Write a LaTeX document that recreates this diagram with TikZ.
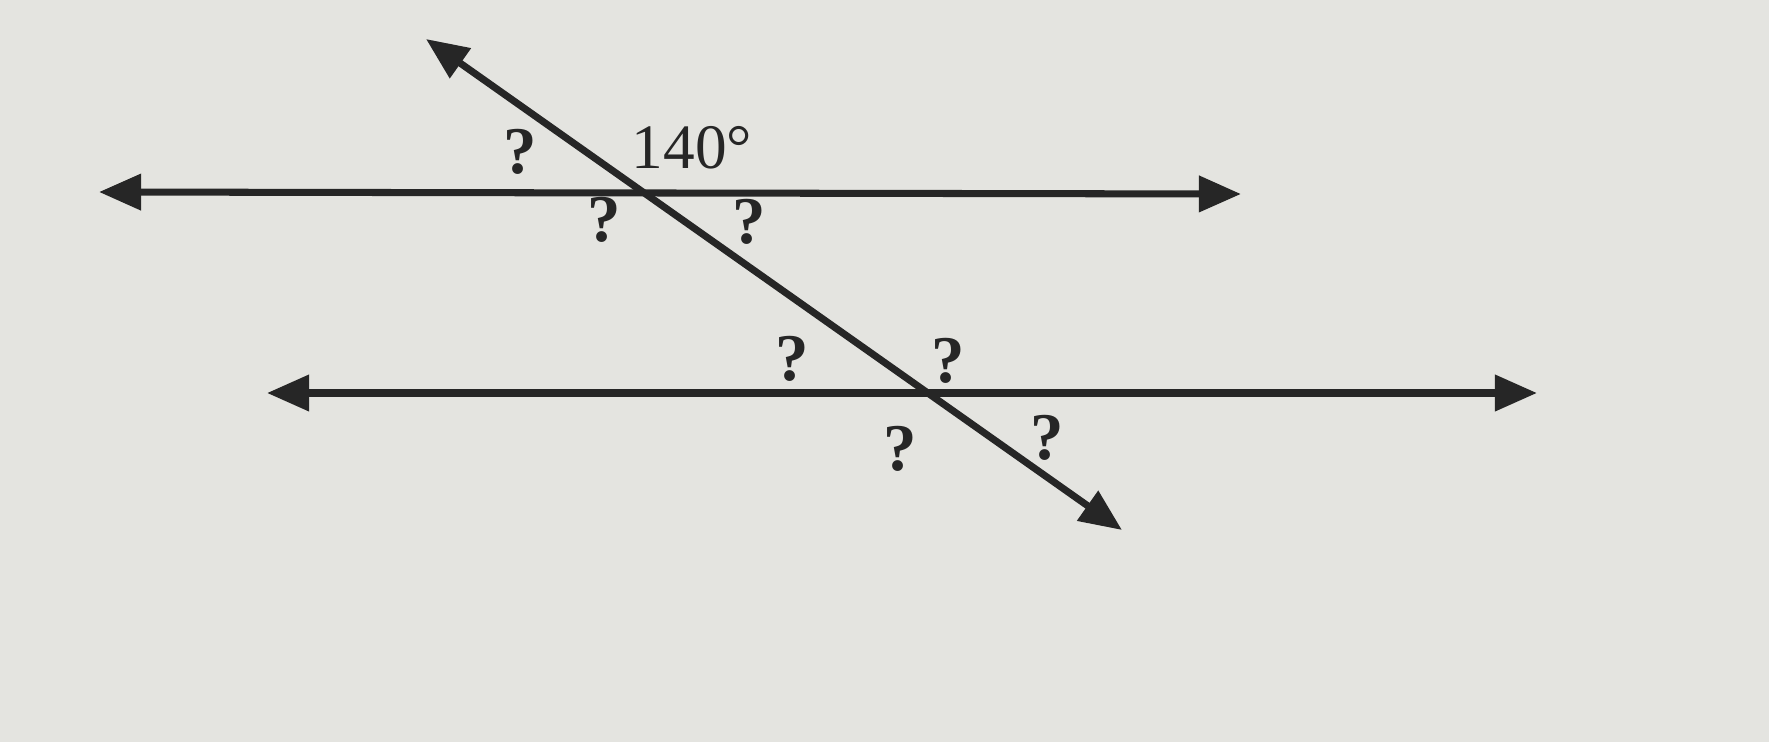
\documentclass[tikz,border=0pt]{standalone}
\usepackage{fontspec}
\setmainfont{Liberation Serif}
\usetikzlibrary{arrows.meta}
\definecolor{paper}{HTML}{E4E4E0}
\definecolor{ink}{HTML}{262626}

\begin{document}
\begin{tikzpicture}[
	%	style def
    x=0.01cm, y=-0.01cm,
    important line/.style={line width=2pt, color=ink, {Triangle[length=12pt,width=10pt]}-{Triangle[length=12pt,width=10pt]}},
    ask/.style={font=\bfseries\fontsize{19}{19}\selectfont, text=ink},
    every node/.style={inner sep=0pt}
    ]
    % paper
    \fill[paper] (0,0) rectangle (1769,742);

    % end points of the lines
    \coordinate (L1) at (99,192);
    \coordinate (R1) at (1241,194);
    \coordinate (L2) at (267,393);
    \coordinate (R2) at (1537,393);
    \coordinate (T1) at (426,39);
    \coordinate (T2) at (1122,530);

    % parallel lines and transversal
    \draw[important line] (L1) -- (R1);
    \draw[important line] (L2) -- (R2);
    \draw[important line] (T1) -- (T2);

    % angles at the upper crossing
    \node[ask] (a1) at (520,152) {?};
    \node[font=\fontsize{18}{18}\selectfont, text=ink] (a2) at (692,148) {140°};
    \node[ask] (a3) at (604,220) {?};
    \node[ask] (a4) at (749,222) {?};

    % angles at the lower crossing
    \node[ask] (b1) at (792,359) {?};
    \node[ask] (b2) at (948,361) {?};
    \node[ask] (b3) at (900,449) {?};
    \node[ask] (b4) at (1047,438) {?};
\end{tikzpicture}
\end{document}
